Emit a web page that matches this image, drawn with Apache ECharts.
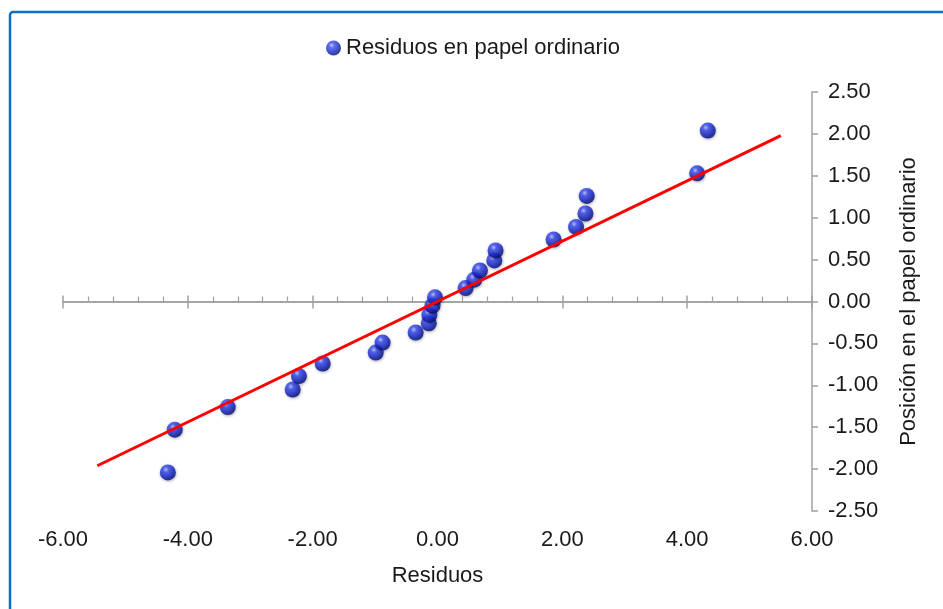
<!DOCTYPE html>
<html>
<head>
<meta charset="utf-8">
<script src="https://cdn.jsdelivr.net/npm/echarts@6/dist/echarts.min.js"></script>
<style>
html,body{margin:0;padding:0;background:#fff;}
#chart{width:943px;height:609px;}
</style>
</head>
<body>
<div id="chart"></div>
<script>
// Data
const residuos = [-4.32, -4.21, -3.36, -2.32, -2.22, -1.84, -0.99, -0.88, -0.35, -0.14, -0.13, -0.08,
                  -0.04, 0.45, 0.59, 0.68, 0.91, 0.93, 1.86, 2.22, 2.37, 2.39, 4.16, 4.33];
const posicion = [-2.04, -1.53, -1.26, -1.05, -0.89, -0.74, -0.61, -0.49, -0.37, -0.26, -0.16, -0.05,
                  0.05, 0.16, 0.26, 0.37, 0.49, 0.61, 0.74, 0.89, 1.05, 1.26, 1.53, 2.04];
const lineaX = [-5.45, 5.5];
const lineaY = [-1.96, 1.98];
const seriesName = 'Residuos en papel ordinario';
const xName = 'Residuos';
const yName = 'Posición en el papel ordinario';

const scatterData = residuos.map((x, i) => [x, posicion[i]]);
const lineData = lineaX.map((x, i) => [x, lineaY[i]]);

const FONT = 'Liberation Sans, Arial, sans-serif';
const FS = 22;
const TXT = '#1a1a1a';
const AXC = '#a0a0a0';

const sphere = {
  type: 'radial', x: 0.38, y: 0.32, r: 0.7,
  colorStops: [
    {offset: 0, color: '#b8c4ff'},
    {offset: 0.25, color: '#3a4cf5'},
    {offset: 0.7, color: '#1020b8'},
    {offset: 1, color: '#000a60'}
  ]
};

const chart = echarts.init(document.getElementById('chart'), null, {renderer: 'canvas'});
chart.setOption({
  animation: false,
  backgroundColor: '#fff',
  textStyle: {fontFamily: FONT},
  graphic: [{
    type: 'rect', z: 100, silent: true,
    shape: {x: 10, y: 12, width: 1000, height: 700, r: 3},
    style: {fill: 'none', stroke: '#0a6fc6', lineWidth: 2.5}
  }],
  legend: {
    data: [seriesName],
    left: 321, top: 32,
    itemWidth: 15, itemHeight: 15, itemGap: 10,
    icon: 'circle',
    textStyle: {fontFamily: FONT, fontSize: FS, color: TXT}
  },
  grid: {left: 63, right: 131, top: 92, bottom: 98, containLabel: false},
  xAxis: [
    {
      type: 'value', min: -6, max: 6, interval: 2, position: 'bottom',
      axisLine: {show: false, onZero: false},
      axisTick: {show: false},
      splitLine: {show: false},
      axisLabel: {show: true, margin: 18, fontFamily: FONT, fontSize: FS, color: TXT,
                  formatter: v => v.toFixed(2)},
      name: xName, nameLocation: 'middle', nameGap: 54,
      nameTextStyle: {fontFamily: FONT, fontSize: FS, color: TXT}
    },
    {
      type: 'value', min: -6, max: 6, interval: 2, position: 'top',
      axisLine: {show: true, onZero: true, onZeroAxisIndex: 0, lineStyle: {color: AXC, width: 1.5}},
      axisTick: {show: true, inside: false, length: 6, lineStyle: {color: AXC, width: 1.5}},
      minorTick: {show: true, splitNumber: 5, length: 5, lineStyle: {color: AXC, width: 1.2}},
      splitLine: {show: false},
      axisLabel: {show: false}
    },
    {
      type: 'value', min: -6, max: 6, interval: 2, position: 'bottom',
      axisLine: {show: true, onZero: true, onZeroAxisIndex: 0, lineStyle: {color: AXC, width: 1.5}},
      axisTick: {show: true, inside: false, length: 7, lineStyle: {color: AXC, width: 1.5}},
      splitLine: {show: false},
      axisLabel: {show: false}
    }
  ],
  yAxis: [{
    type: 'value', min: -2.5, max: 2.5, interval: 0.5, position: 'right',
    axisLine: {show: true, onZero: false, lineStyle: {color: AXC, width: 1.5}},
    axisTick: {show: true, inside: false, length: 6, lineStyle: {color: AXC, width: 1.5}},
    splitLine: {show: false},
    axisLabel: {show: true, margin: 16, fontFamily: FONT, fontSize: FS, color: TXT,
                formatter: v => v.toFixed(2)},
    name: yName, nameLocation: 'middle', nameRotate: 90, nameGap: 86,
    nameTextStyle: {fontFamily: FONT, fontSize: FS, color: TXT}
  }],
  series: [
    {
      name: seriesName, type: 'scatter', xAxisIndex: 0, yAxisIndex: 0,
      data: scatterData, symbol: 'circle', symbolSize: 16, z: 2,
      itemStyle: {color: sphere, shadowBlur: 3, shadowColor: 'rgba(20,20,60,0.45)', shadowOffsetX: 0.5, shadowOffsetY: 1}
    },
    {
      name: 'linea', type: 'line', xAxisIndex: 0, yAxisIndex: 0,
      data: lineData, symbol: 'none', z: 3,
      lineStyle: {color: '#ff0000', width: 3},
      silent: true
    }
  ]
});
</script>
</body>
</html>
